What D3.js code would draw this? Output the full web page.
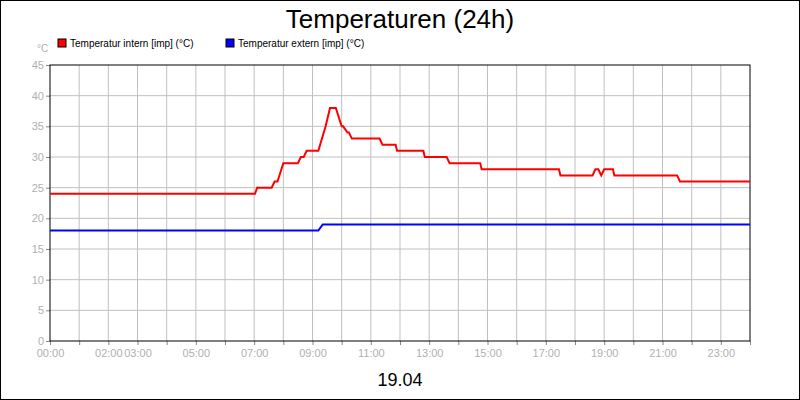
<!DOCTYPE html>
<html><head><meta charset="utf-8">
<script src="https://cdn.jsdelivr.net/npm/d3@7"></script>
<style>body{margin:0;background:#fff}svg{display:block;font-family:"Liberation Sans",Arial,sans-serif}</style>
</head><body><svg id="c" width="800" height="400"></svg>
<script>
// hours since 00:00, value °C
const internHours = [0,7.03,7.1,7.6,7.7,7.8,8.0,8.5,8.6,8.7,8.8,9.2,9.45,9.6,9.8,10.0,10.05,10.2,10.25,10.35,11.3,11.4,11.85,11.9,12.8,12.85,13.6,13.7,14.75,14.8,17.45,17.5,18.6,18.7,18.8,18.9,19.0,19.3,19.35,21.5,21.6,24];
const internVals  = [24,24,25,25,26,26,29,29,30,30,31,31,35,38,38,35,35,34,34,33,33,32,32,31,31,30,30,29,29,28,28,27,27,28,28,27,28,28,27,27,26,26];
const externHours = [0,9.2,9.35,24];
const externVals  = [18,18,19,19];
const yTicks = [0,5,10,15,20,25,30,35,40,45];
const xLabels = [0,2,3,5,7,9,11,13,15,17,19,21,23];
const legend = [["Temperatur intern [imp] (°C)","#ff0000"],["Temperatur extern [imp] (°C)","#0000ff"]];

const svg = d3.select("#c");
const L=50,R=750,T=65,B=341;
const x = d3.scaleLinear().domain([0,24]).range([L,R]);
const y = d3.scaleLinear().domain([0,45]).range([B,T]);

svg.append("rect").attr("x",0.5).attr("y",0.5).attr("width",799).attr("height",399).attr("fill","#fff").attr("stroke","#000");
svg.append("text").attr("x",400).attr("y",28).attr("text-anchor","middle").attr("font-size",26).text("Temperaturen (24h)");

// grid
svg.append("g").selectAll("line").data(d3.range(1,24)).join("line")
  .attr("x1",d=>x(d)).attr("x2",d=>x(d)).attr("y1",T).attr("y2",B).attr("stroke","#c0c0c0");
svg.append("g").selectAll("line").data(yTicks.slice(1,-1)).join("line")
  .attr("x1",L).attr("x2",R).attr("y1",d=>y(d)).attr("y2",d=>y(d)).attr("stroke","#c0c0c0");

// axes
const ya = svg.append("g").attr("transform",`translate(${L},0)`)
  .call(d3.axisLeft(y).tickValues(yTicks).tickSize(4).tickPadding(2));
const xa = svg.append("g").attr("transform",`translate(0,${B})`)
  .call(d3.axisBottom(x).tickValues(d3.range(0,25)).tickSize(4).tickPadding(4)
    .tickFormat(d=>xLabels.includes(d)?String(d).padStart(2,"0")+":00":""));
[ya,xa].forEach(a=>{a.select(".domain").remove();a.selectAll("line").attr("stroke","#888");
  a.selectAll("text").attr("fill","#b0b0b0").attr("font-size",11).attr("font-family","Liberation Sans, Arial, sans-serif");});
svg.append("rect").attr("x",L).attr("y",T).attr("width",R-L).attr("height",B-T).attr("fill","none").attr("stroke","#000");
svg.append("text").attr("x",37).attr("y",52).attr("fill","#b0b0b0").attr("font-size",10).text("°C");

// lines
const line = d3.line().x(d=>x(d[0])).y(d=>y(d[1]));
[[externHours,externVals,"#0000ff"],[internHours,internVals,"#ff0000"]].forEach(([h,v,c])=>{
  svg.append("path").datum(d3.zip(h,v)).attr("d",line).attr("fill","none").attr("stroke",c).attr("stroke-width",2);
});

// legend
const lg = svg.append("g").selectAll("g").data(legend).join("g").attr("transform",(d,i)=>`translate(${58+i*168},40)`);
lg.append("rect").attr("width",8).attr("height",8).attr("y",-1).attr("fill",d=>d[1]).attr("stroke","#000");
lg.append("text").attr("x",12).attr("y",7).attr("font-size",10).text(d=>d[0]);

svg.append("text").attr("x",400).attr("y",386).attr("text-anchor","middle").attr("font-size",18).text("19.04");
</script></body></html>
